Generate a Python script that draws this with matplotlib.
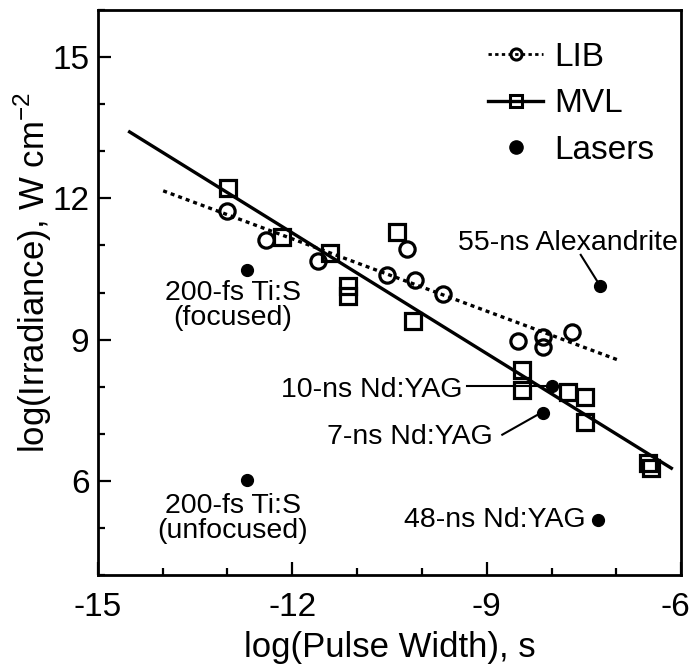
import matplotlib
matplotlib.use('Agg')
import matplotlib.pyplot as plt
import matplotlib.transforms as mtransforms
from matplotlib.lines import Line2D

plt.rcParams['font.family'] = ['Liberation Sans', 'DejaVu Sans']
plt.rcParams['axes.unicode_minus'] = False

# LIB data (open circles)
lib_x = [-13.00, -12.40, -11.61, -10.54, -10.23, -10.10, -9.67, -8.52, -8.13, -8.13, -7.69]
lib_y = [11.73, 11.12, 10.67, 10.37, 10.93, 10.27, 9.97, 8.97, 9.05, 8.85, 9.17]

# MVL data (open squares)
mvl_x = [-12.99, -12.15, -11.41, -11.14, -11.14, -10.38, -10.13, -8.45, -8.45,
         -7.75, -7.48, -7.49, -6.51, -6.47]
mvl_y = [12.22, 11.18, 10.84, 10.14, 9.93, 11.29, 9.40, 8.36, 7.92,
         7.89, 7.78, 7.25, 6.37, 6.28]

# single laser points
laser_x = [-12.70, -12.70, -7.99, -8.13, -7.28, -7.25]
laser_y = [10.48, 6.02, 8.02, 7.44, 5.17, 10.14]

# fitted trend lines (end points)
lib_fit_x = [-13.99, -6.98]
lib_fit_y = [12.16, 8.57]
mvl_fit_x = [-14.53, -6.13]
mvl_fit_y = [13.43, 6.25]

fig = plt.figure(figsize=(6.93, 6.69), dpi=100)
ax = fig.add_axes([0.141, 0.1405, 0.842, 0.8445])

ax.plot(lib_fit_x, lib_fit_y, color='black', lw=2.4, linestyle=(0, (1.2, 1.2)))
ax.plot(mvl_fit_x, mvl_fit_y, color='black', lw=2.4, solid_capstyle='butt')
ax.plot(lib_x, lib_y, 'o', ms=11, mfc='none', mec='black', mew=2.3)
ax.plot(mvl_x, mvl_y, 's', ms=11, mfc='none', mec='black', mew=2.3)
ax.plot(laser_x, laser_y, 'o', ms=8.5, color='black')

# labels for the laser points
fs = 20.5
ax.text(-12.92, 9.72, '200-fs Ti:S\n(focused)', ha='center', va='center', fontsize=fs, linespacing=0.95)
ax.text(-12.92, 5.19, '200-fs Ti:S\n(unfocused)', ha='center', va='center', fontsize=fs, linespacing=0.95)
ax.text(-9.37, 7.93, '10-ns Nd:YAG', ha='right', va='center', fontsize=fs)
ax.plot([-9.30, laser_x[2]], [laser_y[2], laser_y[2]], color='black', lw=1.5)
ax.text(-8.91, 6.93, '7-ns Nd:YAG', ha='right', va='center', fontsize=fs)
ax.plot([-8.76, -8.22], [6.98, 7.40], color='black', lw=1.5)
ax.text(-7.47, 5.17, '48-ns Nd:YAG', ha='right', va='center', fontsize=fs)
ax.text(-6.05, 11.05, '55-ns Alexandrite', ha='right', va='center', fontsize=fs)
ax.plot([-7.55, -7.30], [10.80, 10.25], color='black', lw=1.5)

ax.set_xlim(-15, -6)
ax.set_ylim(4, 16)
ax.set_xticks([-15, -12, -9, -6])
ax.set_xticks([-14, -13, -11, -10, -8, -7], minor=True)
ax.set_yticks([6, 9, 12, 15])
ax.set_yticks([4, 5, 7, 8, 10, 11, 13, 14, 16], minor=True)
ax.tick_params(which='both', direction='in', width=1.6, labelsize=24)
ax.tick_params(which='major', length=9.5)
ax.tick_params(which='minor', length=5)
ax.tick_params(axis='x', pad=12)
ax.tick_params(axis='y', pad=6)
for s in ax.spines.values():
    s.set_linewidth(2.0)

# nudge the last x tick label so it stays inside the figure
last = ax.get_xticklabels()[-1]
last.set_transform(last.get_transform() + mtransforms.ScaledTranslation(-4 / 72, 0, fig.dpi_scale_trans))

ax.set_xlabel('log(Pulse Width), s', fontsize=25, labelpad=6)
ax.set_ylabel('log(Irradiance), W cm$^{\\mathregular{-2}}$', fontsize=25)
ax.yaxis.set_label_coords(-0.075, 0.535)

handles = [
    Line2D([], [], color='black', lw=2.0, linestyle=(0, (1.2, 1.2)), marker='o', ms=8,
           mfc='none', mec='black', mew=2.2),
    Line2D([], [], color='black', lw=2.4, marker='s', ms=8, mfc='none', mec='black', mew=2.2),
    Line2D([], [], linestyle='none', marker='o', ms=9.5, color='black'),
]
ax.legend(handles, ['LIB', 'MVL', 'Lasers'], loc='upper left', bbox_to_anchor=(0.669, 0.944),
          frameon=False, fontsize=24, borderpad=0, borderaxespad=0, handlelength=1.65,
          handletextpad=0.35, labelspacing=0.47)

fig.savefig('out.png', dpi=100)
